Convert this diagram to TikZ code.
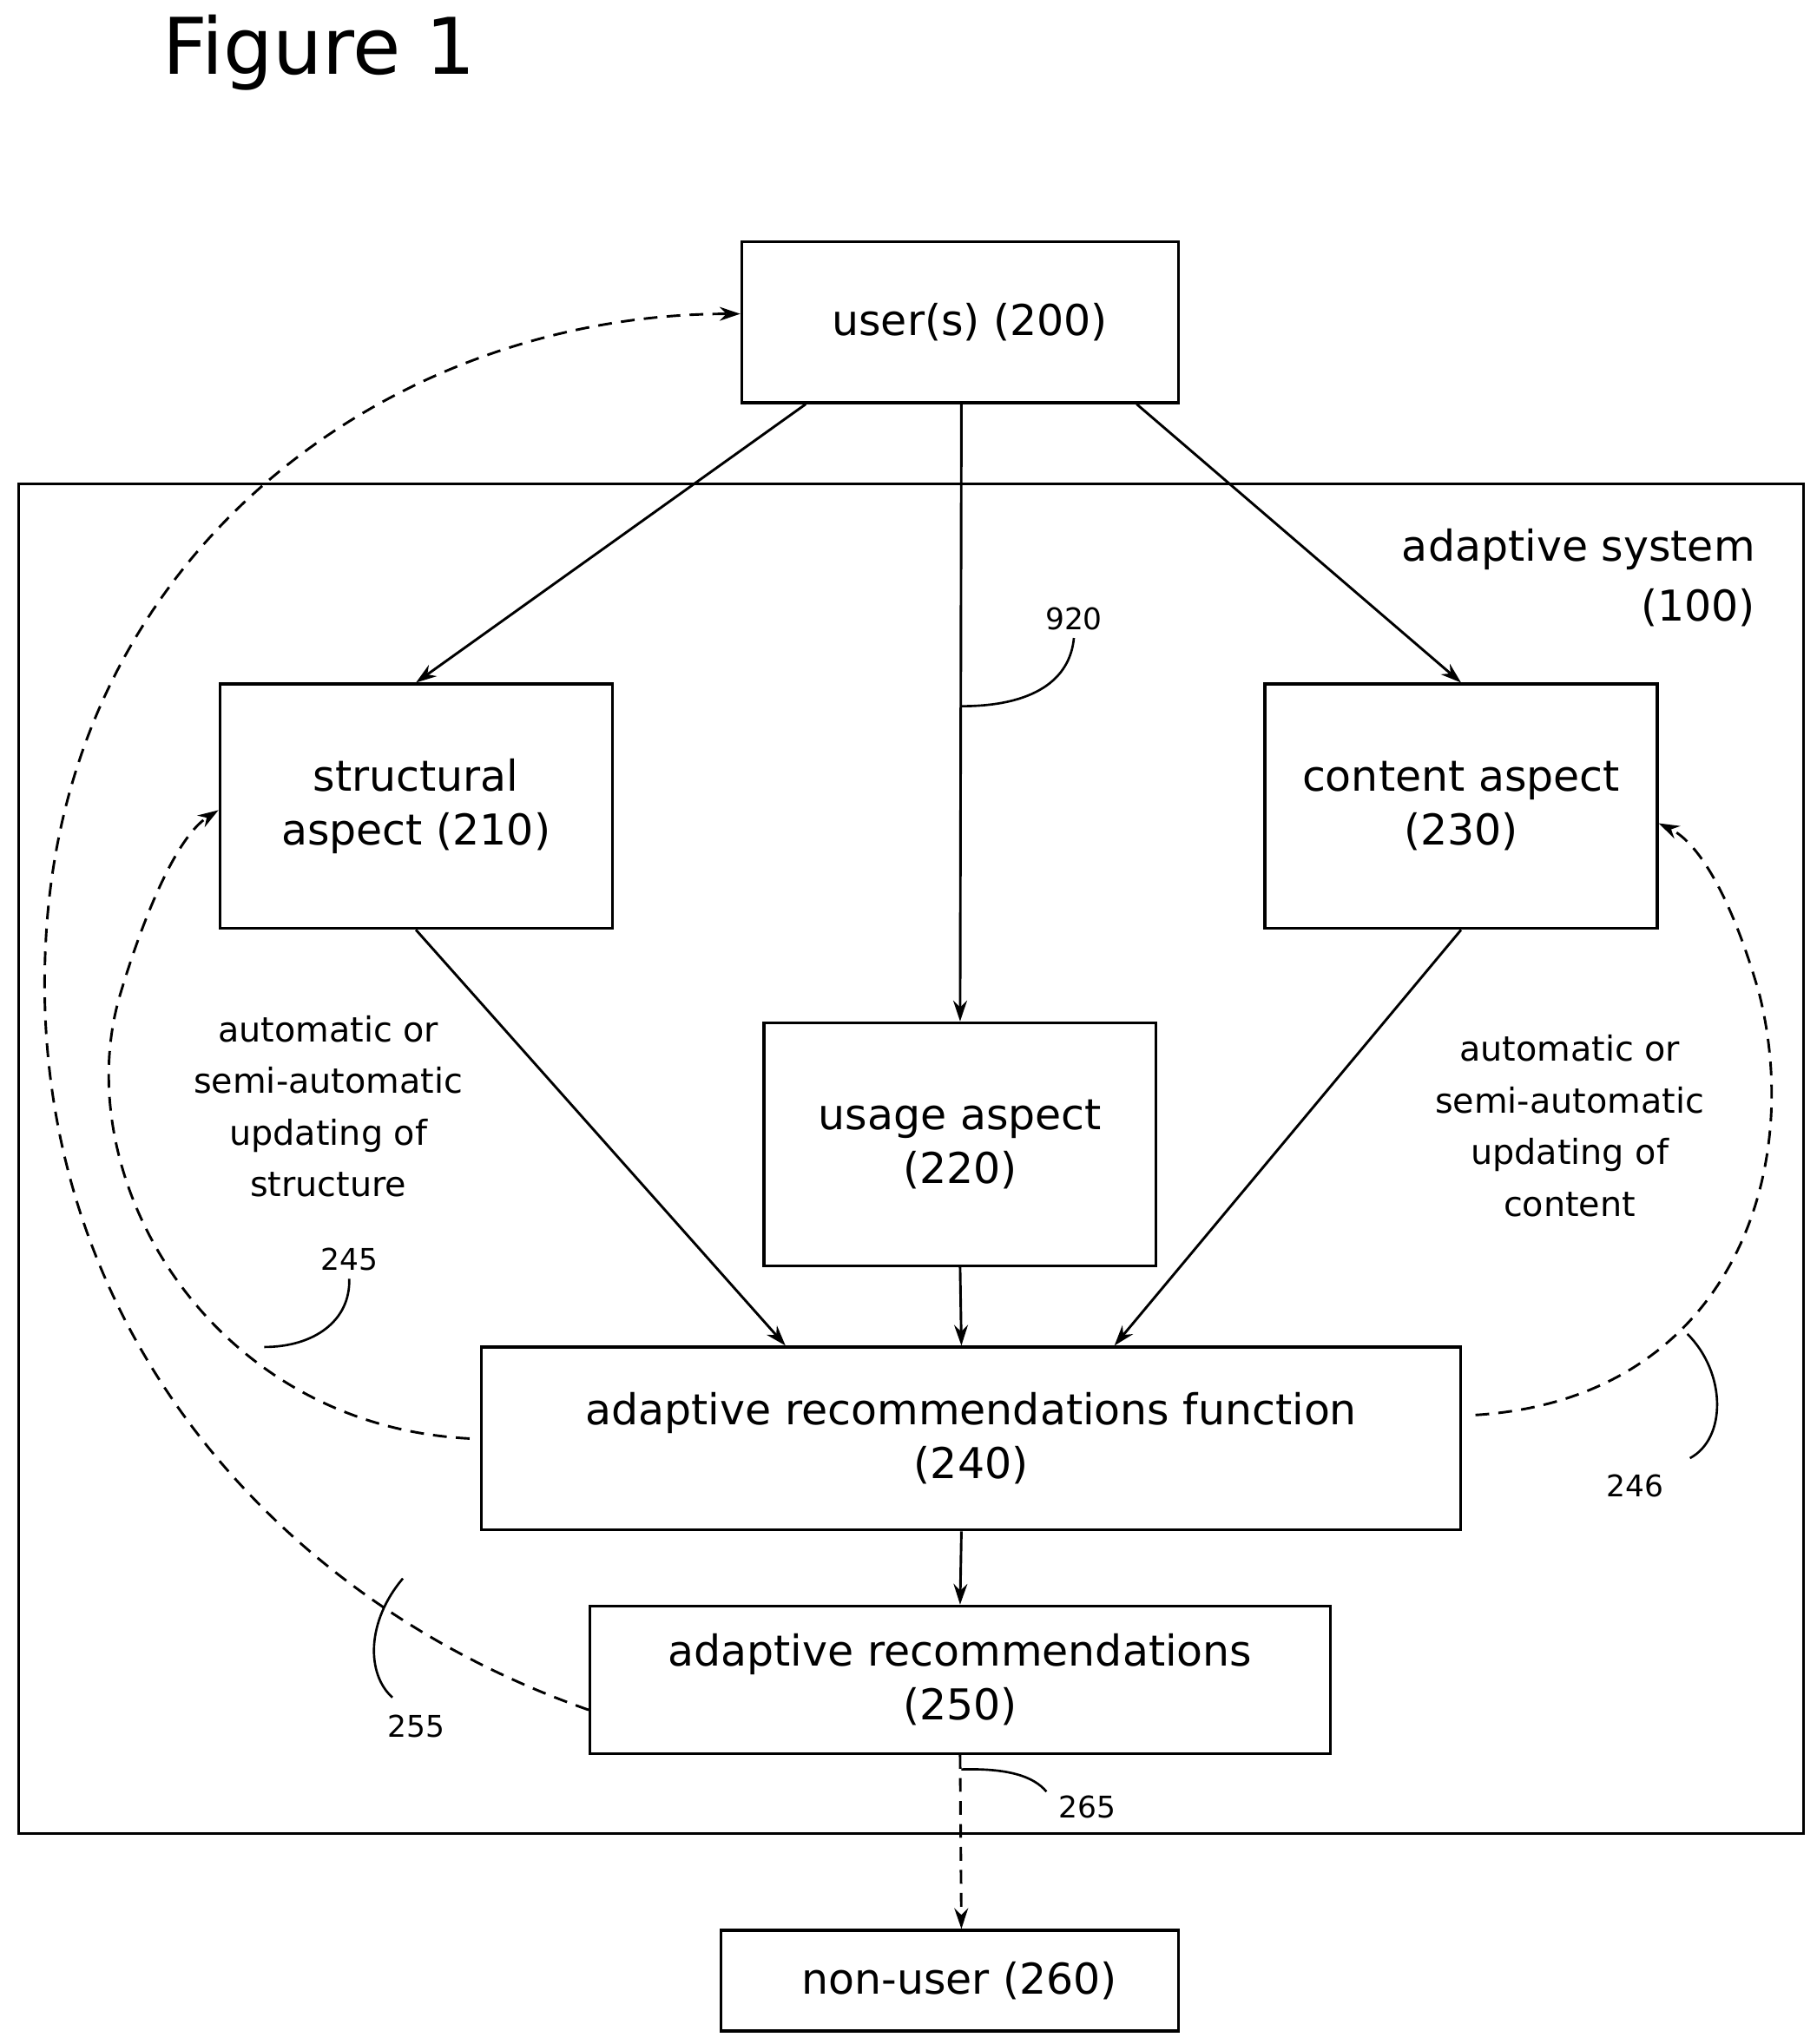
\documentclass[tikz,border=0pt]{standalone}
\usepackage{fontspec}
\setmainfont{DejaVu Sans}
\usetikzlibrary{arrows.meta}
\begin{document}
\begin{tikzpicture}[x=0.02cm,y=-0.02cm,
 box/.style={draw,line width=1.2pt,inner sep=0pt,font=\fontsize{18.5}{23.5}\selectfont,align=center},
 arr/.style={line width=1.1pt,-{Stealth[length=9pt,width=6pt]}},
 dsh/.style={line width=1.1pt,dash pattern=on 6pt off 4pt,-{Stealth[length=9pt,width=6pt]}},
 lbl/.style={font=\fontsize{15}{22.5}\selectfont,align=center},
 num/.style={font=\fontsize{13}{15}\selectfont},
 lead/.style={line width=1pt}]
\useasboundingbox (0,0) rectangle (1389,1563);
\node[font=\fontsize{34}{40}\selectfont,anchor=west] (title) at (118,40) {Figure 1};
\draw[line width=1.2pt] (14,370) rectangle (1379,1402);
\node[font=\fontsize{18.5}{26}\selectfont,align=right,anchor=north east] (sys) at (1348,398) {adaptive system\\(100)};
\node[box,minimum width=6.68cm,minimum height=2.46cm] (u) at (734,246.5) {\hspace*{0.3cm}user(s) (200)};
\node[box,minimum width=6cm,minimum height=3.74cm] (s) at (318,616.5) {structural\\aspect (210)};
\node[box,minimum width=6cm,minimum height=3.74cm] (c) at (1117,616.5) {content aspect\\(230)};
\node[box,minimum width=6cm,minimum height=3.72cm] (g) at (734,875) {usage aspect\\(220)};
\node[box,minimum width=14.98cm,minimum height=2.8cm] (f) at (742.5,1100) {adaptive recommendations function\\(240)};
\node[box,minimum width=11.32cm,minimum height=2.26cm] (r) at (734,1284.5) {adaptive recommendations\\(250)};
\node[box,minimum width=7cm,minimum height=1.54cm] (n) at (726,1514.5) {\hspace*{0.3cm}non-user (260)};
\draw[arr] (u.south west)++(50,0) coordinate (a1) -- (s.north);
\draw[arr] (u.south) ++(1,0) -- (g.north);
\draw[arr] (u.south east)++(-33,0) -- (c.north);
\draw[arr] (s.south) -- ([xshift=-2.84cm]f.north);
\draw[arr] (g.south) -- ([xshift=-0.15cm]f.north);
\draw[arr] (c.south) -- ([xshift=2.19cm]f.north);
\draw[arr] ([xshift=-0.15cm]f.south) -- (r.north);
\draw[dsh] (r.south) -- ([xshift=0.18cm]n.north);
\draw[dsh] ([xshift=-0.16cm]f.west) .. controls (160,1090) and (50,900) .. (92,760) .. controls (110,700) and (135,640) .. ([yshift=-0.06cm]s.west);
\draw[dsh] ([xshift=0.2cm,yshift=0.36cm]f.east) .. controls (1320,1070) and (1380,900) .. (1345,760) .. controls (1325,690) and (1300,645) .. ([yshift=-0.26cm]c.east);
\draw[dsh] ([yshift=-0.46cm]r.west) .. controls (200,1220) and (20,1000) .. (35,720) .. controls (50,420) and (300,240) .. ([yshift=0.13cm]u.west);
\node[lbl] (l1) at (251,846) {automatic or\\semi-automatic\\updating of\\structure};
\node[lbl] (l2) at (1200,861) {automatic or\\semi-automatic\\updating of\\content};
\node[num] (n920) at (821,473) {920};
\node[num] (n245) at (267,963) {245};
\node[num] (n246) at (1250,1136) {246};
\node[num] (n255) at (318,1320) {255};
\node[num] (n265) at (831,1382) {265};
\coordinate (k1) at (735,540);
\draw[lead] (k1) .. controls (790,540) and (818,520) .. (n920.south);
\coordinate (k2) at (202,1030);
\draw[lead] (k2) .. controls (240,1030) and (268,1010) .. (n245.south);
\coordinate (k3) at (1290,1020);
\draw[lead] (k3) .. controls (1320,1050) and (1320,1100) .. (1292,1115) coordinate (k3e);
\coordinate (k4) at (308,1207);
\draw[lead] (k4) .. controls (280,1240) and (280,1280) .. (300,1298) coordinate (k4e);
\coordinate (k5) at (735,1353);
\draw[lead] (k5) .. controls (770,1352) and (790,1358) .. (800,1370) coordinate (k5e);
\end{tikzpicture}
\end{document}
